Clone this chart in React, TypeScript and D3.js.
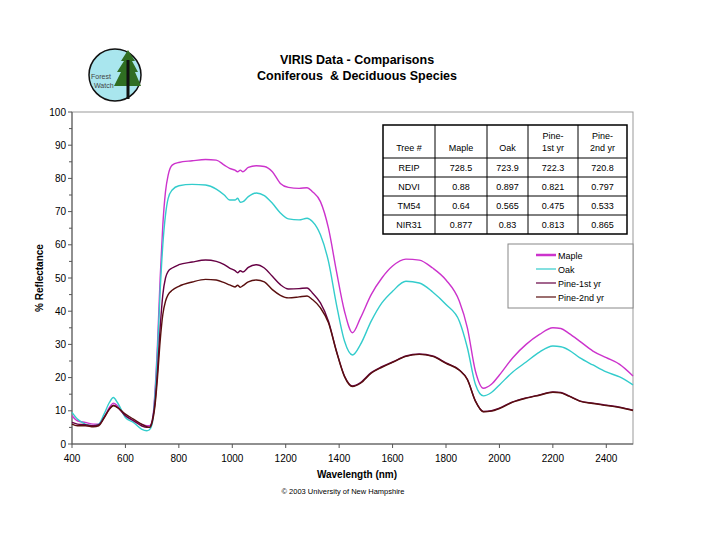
import React from "react";
import * as d3 from "d3";

const wavelengths = [
  400, 420, 450, 480, 500, 520, 540, 555, 570, 600,
  630, 660, 680, 690, 700, 710, 720, 730, 740, 750,
  760, 775, 800, 850, 900, 940, 970, 990, 1010, 1020,
  1030, 1040, 1060, 1090, 1120, 1150, 1180, 1210, 1250, 1280,
  1300, 1330, 1360, 1390, 1420, 1450, 1480, 1520, 1560, 1600,
  1650, 1700, 1750, 1800, 1850, 1880, 1910, 1940, 1970, 2000,
  2050, 2100, 2150, 2200, 2230, 2260, 2300, 2350, 2400, 2450,
  2500,
];

const maple = [
  8.5, 7, 6.5, 6, 6, 8, 11, 12.3, 11.5, 8.5,
  7, 6, 5.5, 5.5, 6.5, 15, 30, 50, 66, 76,
  81, 84, 84.8, 85.3, 85.7, 85.5, 84, 83, 82.5, 82,
  82.5, 82, 83.3, 83.8, 83.6, 82, 78.5, 77.3, 77, 77.2,
  76, 73, 65, 52, 40, 33.5, 38, 45, 50, 53.6,
  55.7, 55.4, 53, 49.4, 43, 35, 22, 16.8, 18, 20.8,
  26, 30, 33, 35, 34.8, 33.3, 31, 28, 26, 24,
  20.5,
];

const oak = [
  9.5, 7.5, 6, 5.5, 6, 9, 12.5, 14, 12.5, 8,
  6.5, 4.5, 4, 4.3, 6, 14, 28, 46, 60, 69,
  74, 76.5, 77.8, 78.2, 78, 76.8, 75, 73.5, 73.5, 74,
  72.8, 73, 74.5, 75.6, 74.8, 72.5, 69.6, 67.8, 67.5, 68,
  67, 63, 55, 42, 31, 26.8, 30, 37, 42.5, 46,
  49, 48.5, 45.8, 42, 37, 29, 18, 14.5, 15.5, 17.8,
  21.7, 24.7, 27.7, 29.5, 29.3, 28.3, 26, 23.8, 21.7, 20.2,
  17.8,
];

const pine1 = [
  6.5, 6, 5.8, 5.5, 5.8, 8, 10.5, 11.7, 11, 8.5,
  7, 5.5, 5, 5, 7, 12, 22, 35, 45, 50,
  52, 53, 54, 54.8, 55.4, 55, 54, 53, 52.2, 51.6,
  52.2, 51.8, 53.2, 54, 53, 50.5, 48, 46.7, 46.8, 47,
  45.5, 42.5, 37, 28, 20.5, 17.5, 18.5, 21.5, 23.3, 24.7,
  26.5, 27.1, 26.5, 24.4, 22.3, 19.5, 13, 9.8, 10, 10.8,
  12.7, 13.9, 14.8, 15.7, 15.5, 14.5, 13, 12.3, 11.7, 11.1,
  10.2,
];

const pine2 = [
  6, 5.5, 5.5, 5.2, 5.5, 7.8, 10.5, 11.5, 11, 9,
  7.5, 6, 5.2, 5, 6.5, 11, 20, 31, 39, 43,
  45, 46.3, 47.5, 48.8, 49.6, 49.4, 48.6, 47.9, 47.3, 47.8,
  47.2, 47.7, 48.8, 49.4, 48.8, 46.5, 44.8, 44, 44.3, 44.6,
  43.5, 41, 36.5, 27.8, 20.3, 17.3, 18.3, 21.3, 23.1, 24.6,
  26.4, 27, 26.4, 24.3, 22.2, 19.4, 12.9, 9.7, 9.9, 10.7,
  12.6, 13.8, 14.7, 15.6, 15.4, 14.4, 12.9, 12.2, 11.6, 11,
  10.1,
];

const seriesNames = ["Maple", "Oak", "Pine-1st yr", "Pine-2nd yr"];
const seriesValues = [maple, oak, pine1, pine2];
const seriesColors = ["#cc33cc", "#33cccc", "#660044", "#5a0f0f"];

const xTicks = [400, 600, 800, 1000, 1200, 1400, 1600, 1800, 2000, 2200, 2400];
const yTicks = [0, 10, 20, 30, 40, 50, 60, 70, 80, 90, 100];

const tableHeader = [["Tree #"], ["Maple"], ["Oak"], ["Pine-", "1st yr"], ["Pine-", "2nd yr"]];
const tableRows = [
  ["REIP", "728.5", "723.9", "722.3", "720.8"],
  ["NDVI", "0.88", "0.897", "0.821", "0.797"],
  ["TM54", "0.64", "0.565", "0.475", "0.533"],
  ["NIR31", "0.877", "0.83", "0.813", "0.865"],
];

const FONT = "Arial, 'Liberation Sans', sans-serif";

export default function App() {
  const left = 72, right = 633, top = 112, bottom = 444;
  const x = d3.scaleLinear().domain([400, 2500]).range([left, right]);
  const y = d3.scaleLinear().domain([0, 100]).range([bottom, top]);
  const line = d3
    .line<number>()
    .x((_, i) => x(wavelengths[i]))
    .y((v) => y(v))
    .curve(d3.curveMonotoneX);

  const minorY = d3.range(5, 100, 10);

  const colX = [383, 435, 487, 528, 578, 627];
  const rowY = [125, 158, 177, 196, 215, 234];

  const legendX = 508, legendY = 244;

  return (
    <svg
      width={720}
      height={540}
      style={{ position: "absolute", left: 0, top: 0, background: "#fff" }}
      fontFamily={FONT}
    >
      <rect x={0} y={0} width={720} height={540} fill="#fff" />

      {/* Logo */}
      <g>
        <circle cx={115} cy={75} r={26} fill="#a9e6ee" stroke="#111" strokeWidth={1.5} />
        <path d="M128,50 L121,61 L124,61 L117,72 L121,72 L114,86 L141,86 L135,72 L138,72 L132,61 L135,61 Z" fill="#2f6e22" />
        <line x1={128} y1={60} x2={128} y2={99} stroke="#111" strokeWidth={3} />
        <text x={91} y={79} fontSize={7} fill="#444">Forest</text>
        <text x={94} y={88} fontSize={7} fill="#444">Watch</text>
      </g>

      {/* Title */}
      <text x={357} y={64} textAnchor="middle" fontSize={12.5} fontWeight="bold">VIRIS Data - Comparisons</text>
      <text x={357} y={80} textAnchor="middle" fontSize={12.5} fontWeight="bold" style={{ whiteSpace: "pre" }}>
        Coniferous  &amp; Deciduous Species
      </text>

      {/* Plot frame */}
      <rect x={left} y={top} width={right - left} height={bottom - top} fill="none" stroke="#999" strokeWidth={1} />
      <line x1={left} y1={top} x2={left} y2={bottom} stroke="#555" />
      <line x1={left} y1={bottom} x2={right} y2={bottom} stroke="#555" />

      {/* Y ticks */}
      {yTicks.map((t) => (
        <g key={"y" + t}>
          <line x1={left - 4} x2={left} y1={y(t)} y2={y(t)} stroke="#555" />
          <text x={left - 6} y={y(t) + 3.5} textAnchor="end" fontSize={10}>{t}</text>
        </g>
      ))}
      {minorY.map((t) => (
        <line key={"my" + t} x1={left - 3} x2={left} y1={y(t)} y2={y(t)} stroke="#555" />
      ))}

      {/* X ticks */}
      {xTicks.map((t) => (
        <g key={"x" + t}>
          <line x1={x(t)} x2={x(t)} y1={bottom} y2={bottom + 4} stroke="#555" />
          <text x={x(t)} y={bottom + 18} textAnchor="middle" fontSize={10}>{t}</text>
        </g>
      ))}

      {/* Axis titles */}
      <text x={357} y={478} textAnchor="middle" fontSize={10} fontWeight="bold">Wavelength (nm)</text>
      <text transform={`translate(43,278) rotate(-90)`} textAnchor="middle" fontSize={10} fontWeight="bold">
        % Reflectance
      </text>
      <text x={343} y={494} textAnchor="middle" fontSize={7.5}>© 2003 University of New Hampshire</text>

      {/* Series */}
      {seriesValues.map((vals, i) => (
        <path
          key={seriesNames[i]}
          d={line(vals) || ""}
          fill="none"
          stroke={seriesColors[i]}
          strokeWidth={1.4}
          strokeLinejoin="round"
        />
      ))}

      {/* Table */}
      <g fontSize={9}>
        <rect x={colX[0]} y={rowY[0]} width={colX[5] - colX[0]} height={rowY[5] - rowY[0]} fill="#fff" stroke="#000" strokeWidth={1.5} />
        {colX.slice(1, 5).map((cx) => (
          <line key={"c" + cx} x1={cx} x2={cx} y1={rowY[0]} y2={rowY[5]} stroke="#000" />
        ))}
        {rowY.slice(1, 5).map((ry) => (
          <line key={"r" + ry} x1={colX[0]} x2={colX[5]} y1={ry} y2={ry} stroke="#000" />
        ))}
        {tableHeader.map((lines, ci) => {
          const cx = (colX[ci] + colX[ci + 1]) / 2;
          return lines.length === 1 ? (
            <text key={"h" + ci} x={cx} y={rowY[1] - 7} textAnchor="middle">{lines[0]}</text>
          ) : (
            <g key={"h" + ci}>
              <text x={cx} y={rowY[1] - 19} textAnchor="middle">{lines[0]}</text>
              <text x={cx} y={rowY[1] - 7} textAnchor="middle">{lines[1]}</text>
            </g>
          );
        })}
        {tableRows.map((row, ri) =>
          row.map((cell, ci) => (
            <text
              key={"t" + ri + "-" + ci}
              x={(colX[ci] + colX[ci + 1]) / 2}
              y={(rowY[ri + 1] + rowY[ri + 2]) / 2 + 3.2}
              textAnchor="middle"
            >
              {cell}
            </text>
          ))
        )}
      </g>

      {/* Legend */}
      <g fontSize={9}>
        <rect x={legendX} y={legendY} width={125} height={64} fill="#fff" stroke="#888" />
        {seriesNames.map((n, i) => (
          <g key={"l" + n}>
            <line
              x1={536}
              x2={556}
              y1={legendY + 11 + i * 14}
              y2={legendY + 11 + i * 14}
              stroke={seriesColors[i]}
              strokeWidth={i === 0 ? 2.5 : 1.2}
            />
            <text x={558} y={legendY + 14.5 + i * 14}>{n}</text>
          </g>
        ))}
      </g>
    </svg>
  );
}
